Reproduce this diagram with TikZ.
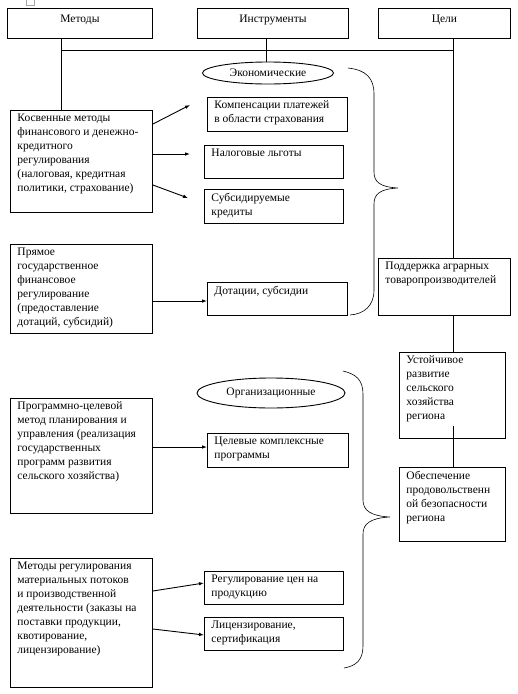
\documentclass[tikz,border=0pt]{standalone}
\usepackage{fontspec}
\setmainfont{Liberation Serif}
\usetikzlibrary{arrows.meta,shapes.geometric,calc}
\newcommand{\bt}[3]{\parbox[c][#2][t]{#1}{\raggedright\leftskip=7pt\parindent=0pt\vspace*{3.5pt}#3}}
\newcommand{\hb}[3]{\parbox[c][#2][t]{#1}{\centering\vspace*{7pt}#3}}
\begin{document}
\begin{tikzpicture}[x=1pt,y=-1pt,
  bx/.style={draw,line width=0.9pt,anchor=north west,inner sep=0pt,font=\fontsize{11.5}{14}\selectfont},
  el/.style={draw,line width=0.9pt,ellipse,inner sep=0pt,font=\fontsize{11.5}{14}\selectfont},
  ln/.style={line width=0.9pt},
  ar/.style={line width=0.9pt,-{Latex[length=5pt,width=3.6pt]}},
  br/.style={line width=0.6pt}]
\useasboundingbox (0,0) rectangle (518,694);
\fill[white] (0,0) rectangle (518,694);
% tiny icon artifact
\draw[gray!70,line width=0.5pt] (26,-1) rectangle (34,5);
% headers
\node[bx] (met) at (7,8) {\hb{145pt}{30pt}{Методы}};
\node[bx] (ins) at (197,8) {\hb{151pt}{30pt}{Инструменты}};
\node[bx] (cel) at (378,8) {\hb{132pt}{30pt}{Цели}};
% junctions
\coordinate (jL) at (61,50);
\coordinate (jM) at (266,50);
\coordinate (jR) at (453,50);
% economic
\node[el,minimum width=131pt,minimum height=22pt] (eco) at (268,73) {Экономические};
\node[bx] (kos) at (10,110) {\bt{142pt}{102pt}{Косвенные методы\\финансового и денежно-\\кредитного\\регулирования\\(налоговая, кредитная\\политики, страхование)}};
\node[bx] (komp) at (207,97) {\bt{140pt}{34pt}{Компенсации платежей\\в области страхования}};
\node[bx] (nal) at (204,145) {\bt{139pt}{33pt}{Налоговые льготы}};
\node[bx] (sub) at (204,189) {\bt{139pt}{34pt}{Субсидируемые\\кредиты}};
\node[bx] (pry) at (10,244) {\bt{142pt}{89pt}{Прямое\\государственное\\финансовое\\регулирование\\(предоставление\\дотаций, субсидий)}};
\node[bx] (dot) at (207,282) {\bt{140pt}{33pt}{Дотации, субсидии}};
% goals
\node[bx] (pod) at (378,258) {\bt{132pt}{57pt}{Поддержка аграрных\\товаропроизводителей}};
\node[bx] (ust) at (399,352) {\bt{106pt}{86pt}{Устойчивое\\развитие\\сельского\\хозяйства\\региона}};
\node[bx] (obe) at (399,467) {\bt{106pt}{74pt}{Обеспечение\\продовольственн\\ой безопасности\\региона}};
% organisational
\node[el,minimum width=148pt,minimum height=30pt] (org) at (271,393) {Организационные};
\node[bx] (prg) at (10,398) {\bt{142pt}{115pt}{Программно-целевой\\метод планирования и\\управления (реализация\\государственных\\программ развития\\сельского хозяйства)}};
\node[bx] (ckp) at (207,433) {\bt{141pt}{34pt}{Целевые комплексные\\программы}};
\node[bx] (mrg) at (10,558) {\bt{142pt}{129pt}{Методы регулирования\\материальных потоков\\и производственной\\деятельности (заказы на\\поставки продукции,\\квотирование,\\лицензирование)}};
\node[bx] (rcp) at (204,571) {\bt{139pt}{33pt}{Регулирование цен на\\продукцию}};
\node[bx] (lic) at (204,617) {\bt{139pt}{33pt}{Лицензирование,\\сертификация}};
% tree lines
\draw[ln] (jL |- met.south) -- (jL |- kos.north);
\draw[ln] (jL) -- (jR);
\draw[ln] (jM |- ins.south) -- (jM |- eco.north);
\draw[ln] (jR |- cel.south) -- (jR |- pod.north);
\draw[ln] (jR |- pod.south) -- (jR |- ust.north);
\coordinate (uin) at ($(jR |- ust.south)+(0,-13)$);
\draw[ln] (uin) -- (jR |- obe.north);
% arrows
\coordinate (a1s) at ($(kos.north east)+(0,14)$);
\coordinate (a1e) at (190,105);
\coordinate (a2s) at ($(kos.north east)+(0,44)$);
\coordinate (a2e) at (190,154);
\coordinate (a3s) at ($(kos.north east)+(0,75)$);
\coordinate (a3e) at (188,198);
\draw[ar] (a1s) -- (a1e);
\draw[ar] (a2s) -- (a2e);
\draw[ar] (a3s) -- (a3e);
\draw[ar] (pry.east |- 0,301) -- (dot.west |- 0,301);
\draw[ar] (prg.east |- 0,447) -- (ckp.west |- 0,447);
\coordinate (m1s) at (mrg.east |- 0,591);
\coordinate (m1e) at (rcp.west |- 0,583);
\coordinate (m2s) at (mrg.east |- 0,629);
\coordinate (m2e) at (lic.west |- 0,635);
\draw[ar] (m1s) -- (m1e);
\draw[ar] (m2s) -- (m2e);
% braces
\draw[br] (348,68) .. controls (366,70) and (374,78) .. (374,94)
  -- (374,172) .. controls (374,182) and (380,187) .. (398,188)
  .. controls (380,189) and (374,194) .. (374,204)
  -- (374,290) .. controls (374,306) and (364,314) .. (350,315);
\draw[br] (343,371) .. controls (356,374) and (363,380) .. (363,394)
  -- (363,500) .. controls (363,510) and (370,516) .. (390,517)
  .. controls (370,518) and (363,524) .. (363,534)
  -- (363,646) .. controls (363,660) and (356,666) .. (344,668);
\end{tikzpicture}
\end{document}
